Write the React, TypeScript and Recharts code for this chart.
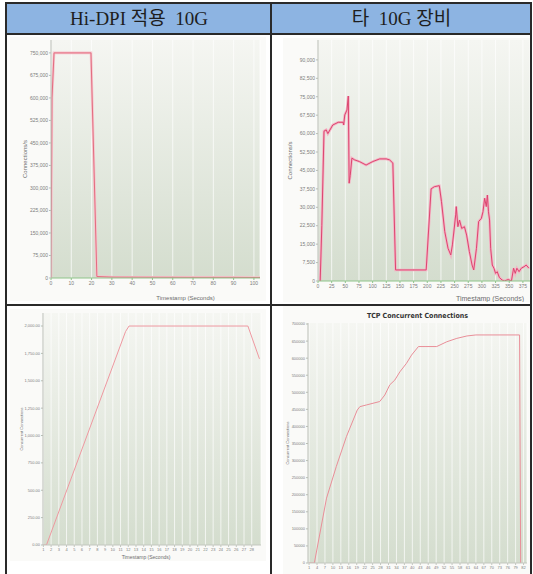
import React from 'react';
import { LineChart, Line, XAxis, YAxis, CartesianGrid } from 'recharts';

// Hi-DPI 10G : connections per second (top left)
const c1Time = [0, 0.5, 1.5, 19.7, 22.6, 30, 50, 70, 90, 103];
const c1Conn = [0, 600000, 750000, 750000, 5000, 3000, 2500, 2000, 2000, 1500];
const c1XTicks = [0, 10, 20, 30, 40, 50, 60, 70, 80, 90, 100];
const c1YTicks = [0, 75000, 150000, 225000, 300000, 375000, 450000, 525000, 600000, 675000, 750000];

// other 10G device : connections per second (top right)
const c2Time = [4, 7, 11, 15, 18, 27, 37, 46, 47, 49, 53, 55.5, 57, 59, 62, 67, 76, 88, 100, 113, 125, 131, 137, 142, 198, 207, 213, 222, 226, 232, 238, 243, 246, 252, 253, 256, 259, 263, 268, 272, 277, 282, 285, 290, 294, 299, 302, 305, 308, 310, 312, 314, 316, 319, 322, 325, 328, 332, 337, 341, 348, 354, 358, 361, 364, 368, 372, 377, 381, 386];
const c2Conn = [0, 22500, 61000, 61500, 60000, 63500, 64600, 64600, 63500, 67600, 69600, 75300, 39800, 43000, 50000, 49300, 48600, 47200, 48600, 49700, 49700, 49300, 48000, 4500, 4500, 37500, 38400, 38800, 32300, 20100, 13300, 10600, 14700, 26900, 30300, 22100, 24800, 21400, 22100, 18700, 12000, 6500, 4500, 13300, 24200, 25500, 28200, 33700, 30300, 35000, 28200, 24800, 13300, 6500, 5200, 3100, 3800, 1400, 400, 0, 600, 0, 5200, 3100, 5200, 3800, 5200, 5800, 6500, 5200];
const c2XTicks = [0, 25, 50, 75, 100, 125, 150, 175, 200, 225, 250, 275, 300, 325, 350, 375];
const c2YTicks = [0, 7500, 15000, 22500, 30000, 37500, 45000, 52500, 60000, 67500, 75000, 82500, 90000];

// Hi-DPI 10G : concurrent connections (bottom left)
const c3Time = [1, 1.4, 11.65, 12.1, 27.5, 29.0];
const c3Conn = [0, 0, 1950, 2000, 2000, 1700];
const c3XTicks = [1, 2, 3, 4, 5, 6, 7, 8, 9, 10, 11, 12, 13, 14, 15, 16, 17, 18, 19, 20, 21, 22, 23, 24, 25, 26, 27, 28];
const c3YTicks = [0, 250, 500, 750, 1000, 1250, 1500, 1750, 2000];

// other 10G device : TCP concurrent connections (bottom right)
const c4Time = [1, 3, 7.6, 11.3, 15.1, 19.2, 20.2, 22.7, 27.7, 29.6, 31.5, 33.4, 35.3, 37.8, 39.7, 42.3, 44.8, 49.2, 53, 56.8, 60.6, 64, 80.5, 80.9];
const c4Conn = [0, 0, 190000, 283000, 370000, 448000, 458000, 463000, 473000, 492000, 522000, 536000, 560000, 585000, 609000, 634000, 634000, 634000, 648000, 658000, 665000, 668000, 668000, 0];
const c4XTicks = [1, 4, 7, 10, 13, 16, 19, 22, 25, 28, 31, 34, 37, 40, 43, 46, 49, 52, 55, 58, 61, 64, 67, 70, 73, 76, 79, 82];
const c4YTicks = [0, 50000, 100000, 150000, 200000, 250000, 300000, 350000, 400000, 450000, 500000, 550000, 600000, 650000, 700000];

const zip = (xs: number[], ys: number[]) => xs.map((t, i) => ({ t, v: ys[i] }));

const FONT = "'Liberation Sans', Arial, sans-serif";

interface PanelProps {
  id: string;
  left: number;
  top: number;
  width: number;
  height: number;
  margin: { top: number; right: number; bottom: number; left: number };
  yWidth: number;
  xHeight: number;
  data: { t: number; v: number }[];
  xDomain: [number, number];
  yDomain: [number, number];
  xTicks: number[];
  yTicks: number[];
  yFormat: (v: number) => string;
  stroke: string;
  halo?: string;
  strokeWidth: number;
  axisColor: string;
  tickSize: number;
  xLabel?: string;
  xLabelDx?: number;
  xLabelSize?: number;
  yLabel: string;
  yLabelOffset: number;
  yLabelSize?: number;
}

const Panel: React.FC<PanelProps> = (p) => {
  const tick = { fontSize: p.tickSize, fill: '#7d7d7d', fontFamily: FONT };
  return (
    <div style={{ position: 'absolute', left: p.left, top: p.top, background: '#fafaf8' }}>
      <LineChart width={p.width} height={p.height} data={p.data} margin={p.margin}>
        <defs>
          <linearGradient id={p.id} x1="0" y1="0" x2="0" y2="1">
            <stop offset="0%" stopColor="#f5f6f2" />
            <stop offset="100%" stopColor="#d4ddce" />
          </linearGradient>
        </defs>
        <CartesianGrid horizontal={false} stroke="#ffffff" strokeOpacity={0.7} fill={`url(#${p.id})`} />
        <XAxis
          dataKey="t"
          type="number"
          domain={p.xDomain}
          ticks={p.xTicks}
          interval={0}
          height={p.xHeight}
          tick={tick}
          tickSize={2}
          tickMargin={1}
          stroke={p.axisColor}
          allowDataOverflow
          label={
            p.xLabel
              ? { value: p.xLabel, position: 'insideBottom', offset: 0, dx: p.xLabelDx ?? 0, fontSize: p.xLabelSize ?? 6, fill: '#6d6d6d', fontFamily: FONT }
              : undefined
          }
        />
        <YAxis
          type="number"
          domain={p.yDomain}
          ticks={p.yTicks}
          interval={0}
          width={p.yWidth}
          tick={tick}
          tickSize={2}
          tickMargin={1}
          tickFormatter={p.yFormat}
          stroke="#b9bdb5"
          allowDataOverflow
          label={{
            value: p.yLabel,
            angle: -90,
            position: 'insideLeft',
            offset: p.yLabelOffset,
            fontSize: p.yLabelSize ?? 6,
            fill: '#6d6d6d',
            fontFamily: FONT,
            style: { textAnchor: 'middle' },
          }}
        />
        {p.halo && (
          <Line type="linear" dataKey="v" stroke={p.halo} strokeWidth={p.strokeWidth + 1.6} dot={false} isAnimationActive={false} />
        )}
        <Line type="linear" dataKey="v" stroke={p.stroke} strokeWidth={p.strokeWidth} dot={false} isAnimationActive={false} />
      </LineChart>
    </div>
  );
};

const num = (v: number) => v.toLocaleString('en-US');
const dec = (v: number) => v.toLocaleString('en-US', { minimumFractionDigits: 2, maximumFractionDigits: 2 });
const raw = (v: number) => String(v);

const line = (left: number, top: number, width: number, height: number) => (
  <div style={{ position: 'absolute', left, top, width, height, background: '#2a2a2a' }} />
);

export default function App() {
  return (
    <div style={{ position: 'absolute', left: 0, top: 0, width: 533, height: 574, background: '#ffffff', overflow: 'hidden' }}>
      <div style={{ position: 'absolute', left: 7, top: 4, width: 524, height: 29, background: '#8db4e2' }} />
      <div
        style={{
          position: 'absolute', left: 7, top: 4, width: 264, height: 29, lineHeight: '29px', textAlign: 'center',
          fontFamily: "'Liberation Serif', 'Noto Sans CJK KR', serif", fontSize: 19, color: '#1e1e1e', whiteSpace: 'pre',
        }}
      >
        Hi-DPI 적용  10G
      </div>
      <div
        style={{
          position: 'absolute', left: 272, top: 4, width: 259, height: 29, lineHeight: '29px', textAlign: 'center',
          fontFamily: "'Liberation Serif', 'Noto Sans CJK KR', serif", fontSize: 19, color: '#1e1e1e', whiteSpace: 'pre',
        }}
      >
        타  10G 장비
      </div>

      <Panel
        id="bg1" left={10} top={37} width={256} height={264}
        margin={{ top: 3, right: 6, bottom: 1, left: 5 }} yWidth={36} xHeight={22}
        data={zip(c1Time, c1Conn)} xDomain={[0, 103]} yDomain={[0, 793000]}
        xTicks={c1XTicks} yTicks={c1YTicks} yFormat={num}
        stroke="#e36d80" halo="#f6c4cc" strokeWidth={1} axisColor="#8fc48a" tickSize={5}
        xLabel="Timestamp (Seconds)" xLabelDx={30} yLabel="Connections/s" yLabelOffset={10}
      />
      <Panel
        id="bg2" left={283} top={38} width={248} height={264}
        margin={{ top: 2, right: 1, bottom: 1, left: 5 }} yWidth={30} xHeight={20}
        data={zip(c2Time, c2Conn)} xDomain={[0, 388]} yDomain={[0, 98100]}
        xTicks={c2XTicks} yTicks={c2YTicks} yFormat={num}
        stroke="#dc4670" halo="#f4b3c4" strokeWidth={1} axisColor="#8fc48a" tickSize={5}
        xLabel="Timestamp (Seconds)" xLabelDx={66} xLabelSize={7} yLabel="Connections/s" yLabelOffset={2}
      />
      <Panel
        id="bg3" left={10} top={309} width={256} height={252}
        margin={{ top: 4, right: 5, bottom: 2, left: 4 }} yWidth={29} xHeight={14}
        data={zip(c3Time, c3Conn)} xDomain={[0.95, 29.2]} yDomain={[0, 2119]}
        xTicks={c3XTicks} yTicks={c3YTicks} yFormat={dec}
        stroke="#ee98a0" strokeWidth={1} axisColor="#c3c7bf" tickSize={4}
        xLabel="Timestamp (Seconds)" xLabelDx={-6} xLabelSize={5} yLabel="Concurrent Connections" yLabelOffset={8} yLabelSize={4}
      />
      <Panel
        id="bg4" left={283} top={306} width={248} height={268}
        margin={{ top: 17, right: 4, bottom: 1, left: 3 }} yWidth={22} xHeight={10}
        data={zip(c4Time, c4Conn)} xDomain={[0.6, 83.3]} yDomain={[0, 703000]}
        xTicks={c4XTicks} yTicks={c4YTicks} yFormat={raw}
        stroke="#e98e98" strokeWidth={1} axisColor="#c3c7bf" tickSize={4}
        yLabel="Concurrent Connections" yLabelOffset={2} yLabelSize={4}
      />
      <div
        style={{
          position: 'absolute', left: 308, top: 312, width: 219, textAlign: 'center', fontWeight: 'bold',
          fontFamily: "'Liberation Sans Narrow', 'DejaVu Sans Condensed', sans-serif", fontSize: 7, color: '#333',
        }}
      >
        TCP Concurrent Connections
      </div>

      {line(5, 2, 527, 2)}
      {line(5, 2, 2, 572)}
      {line(530, 2, 2, 572)}
      {line(270, 2, 2, 572)}
      {line(5, 33, 527, 2)}
      {line(5, 304, 527, 2)}
    </div>
  );
}
